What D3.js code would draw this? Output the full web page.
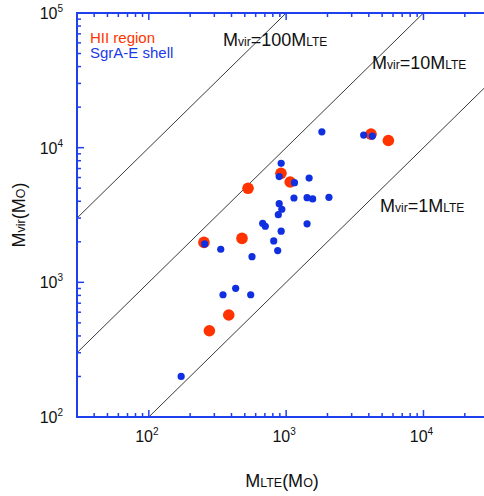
<!DOCTYPE html>
<html>
<head>
<meta charset="utf-8">
<script src="https://cdn.jsdelivr.net/npm/d3@7/dist/d3.min.js"></script>
<style>
  html, body { margin: 0; padding: 0; background: #fff; }
  svg { display: block; font-family: "Liberation Sans", Arial, sans-serif; }
</style>
</head>
<body>
<svg id="chart" width="484" height="496"></svg>
<script>
// Virial mass vs LTE mass (solar masses)
const hiiLTE = [4150, 5550, 917, 1070, 528, 477, 252, 382, 276];
const hiiVir = [12600, 11300, 6450, 5560, 4990, 2120, 1980, 572, 437];

const shellLTE = [1820, 3670, 4240, 920, 890, 1150, 1470, 1140, 1420, 1560, 2050,
                  890, 930, 877, 675, 705, 920, 1420, 812, 868, 564, 255, 334,
                  429, 347, 552, 172];
const shellVir = [13100, 12400, 12200, 7650, 6100, 5500, 5950, 4230, 4250, 4160, 4280,
                  3840, 3490, 3180, 2740, 2610, 2400, 2720, 2030, 1720, 1550, 1930, 1760,
                  903, 809, 809, 200];

// Reference lines Mvir = k * MLTE
const ratios = [100, 10, 1];
const ratioLabels = ["100", "10", "1"];

const xDomain = [30, 30000];
const yDomain = [100, 100000];
const xTickExps = [2, 3, 4];
const yTickExps = [2, 3, 4, 5];

const svg = d3.select("#chart");
const plotL = 77, plotT = 13, plotR = 489, plotB = 417;

const x = d3.scaleLog().domain(xDomain).range([plotL, plotR]);
const y = d3.scaleLog().domain(yDomain).range([plotB, plotT]);

const axisBlue = "#2040f0";
const red = "#ff3300";
const blue = "#0f2fe0";

svg.append("clipPath").attr("id", "plot")
  .append("rect").attr("x", plotL).attr("y", plotT)
  .attr("width", plotR - plotL).attr("height", plotB - plotT);

// diagonal ratio lines
const lineG = svg.append("g").attr("clip-path", "url(#plot)");
ratios.forEach(k => {
  lineG.append("line")
    .attr("x1", x(xDomain[0])).attr("y1", y(xDomain[0] * k))
    .attr("x2", x(xDomain[1])).attr("y2", y(xDomain[1] * k))
    .attr("stroke", "#222").attr("stroke-width", 0.9);
});

// line labels
function ratioLabel(tx, ty, k) {
  const t = svg.append("text").attr("x", tx).attr("y", ty)
    .attr("fill", "#111").attr("font-size", 18);
  t.append("tspan").text("M");
  t.append("tspan").attr("font-size", 12).text("vir");
  t.append("tspan").text("=" + k + "M");
  t.append("tspan").attr("font-size", 12).text("LTE");
}
ratioLabel(223, 46, ratioLabels[0]);
ratioLabel(372, 69, ratioLabels[1]);
ratioLabel(380, 212, ratioLabels[2]);

// points: HII regions beneath, shell clumps on top
const hii = hiiLTE.map((v, i) => [v, hiiVir[i]]);
const shell = shellLTE.map((v, i) => [v, shellVir[i]]);
const ptG = svg.append("g").attr("clip-path", "url(#plot)");
ptG.selectAll("circle.hii").data(hii).enter().append("circle")
  .attr("class", "hii")
  .attr("cx", d => x(d[0])).attr("cy", d => y(d[1]))
  .attr("r", 5.8).attr("fill", red);
ptG.selectAll("circle.shell").data(shell).enter().append("circle")
  .attr("class", "shell")
  .attr("cx", d => x(d[0])).attr("cy", d => y(d[1]))
  .attr("r", 3.6).attr("fill", blue);

// axes (ticks point inward)
const axG = svg.append("g");
function logTicks(domain) {
  const out = [];
  const lo = Math.floor(Math.log10(domain[0])), hi = Math.ceil(Math.log10(domain[1]));
  for (let e = lo; e <= hi; e++) {
    for (let m = 1; m <= 9; m++) {
      const v = m * Math.pow(10, e);
      if (v >= domain[0] * 0.999 && v <= domain[1] * 1.001) out.push({ v, major: m === 1 });
    }
  }
  return out;
}
const xt = logTicks(xDomain), yt = logTicks(yDomain);

xt.forEach(t => {
  const px = x(t.v), len = t.major ? 7 : 4;
  axG.append("line").attr("x1", px).attr("x2", px).attr("y1", plotB).attr("y2", plotB - len)
    .attr("stroke", axisBlue).attr("stroke-width", 1.5);
  axG.append("line").attr("x1", px).attr("x2", px).attr("y1", plotT).attr("y2", plotT + len)
    .attr("stroke", axisBlue).attr("stroke-width", 1.5);
});
yt.forEach(t => {
  const py = y(t.v), len = t.major ? 7 : 4;
  axG.append("line").attr("x1", plotL).attr("x2", plotL + len).attr("y1", py).attr("y2", py)
    .attr("stroke", axisBlue).attr("stroke-width", 1.5);
});
// frame lines
axG.append("line").attr("x1", plotL).attr("x2", plotR).attr("y1", plotB).attr("y2", plotB)
  .attr("stroke", axisBlue).attr("stroke-width", 2);
axG.append("line").attr("x1", plotL).attr("x2", plotR).attr("y1", plotT).attr("y2", plotT)
  .attr("stroke", axisBlue).attr("stroke-width", 2);
axG.append("line").attr("x1", plotL).attr("x2", plotL).attr("y1", plotT - 1).attr("y2", plotB + 1)
  .attr("stroke", axisBlue).attr("stroke-width", 2);

// tick labels 10^n
function powLabel(tx, ty, e, anchor) {
  const t = svg.append("text").attr("x", tx).attr("y", ty)
    .attr("font-size", 16).attr("fill", "#111").attr("text-anchor", anchor);
  t.append("tspan").text("10");
  t.append("tspan").attr("font-size", 10).attr("dy", -7).text(e);
}
xTickExps.forEach(e => powLabel(x(Math.pow(10, e)) - 2, 442, e, "middle"));
yTickExps.forEach(e => powLabel(63, y(Math.pow(10, e)) + 6, e, "end"));

// axis titles
const xTitle = svg.append("text").attr("x", 282).attr("y", 487)
  .attr("text-anchor", "middle").attr("font-size", 18).attr("fill", "#111");
xTitle.append("tspan").text("M");
xTitle.append("tspan").attr("font-size", 12.5).text("LTE");
xTitle.append("tspan").text("(M");
xTitle.append("tspan").attr("font-size", 12.5).text("O");
xTitle.append("tspan").text(")");

const yTitle = svg.append("text").attr("transform", "translate(25,215) rotate(-90)")
  .attr("text-anchor", "middle").attr("font-size", 18).attr("fill", "#111");
yTitle.append("tspan").text("M");
yTitle.append("tspan").attr("font-size", 12.5).text("vir");
yTitle.append("tspan").text("(M");
yTitle.append("tspan").attr("font-size", 12.5).text("O");
yTitle.append("tspan").text(")");

// legend
svg.append("text").attr("x", 90).attr("y", 43).attr("font-size", 15)
  .attr("fill", red).text("HII region");
svg.append("text").attr("x", 90).attr("y", 58).attr("font-size", 15)
  .attr("fill", "#1a3ae8").text("SgrA-E shell");
</script>
</body>
</html>
